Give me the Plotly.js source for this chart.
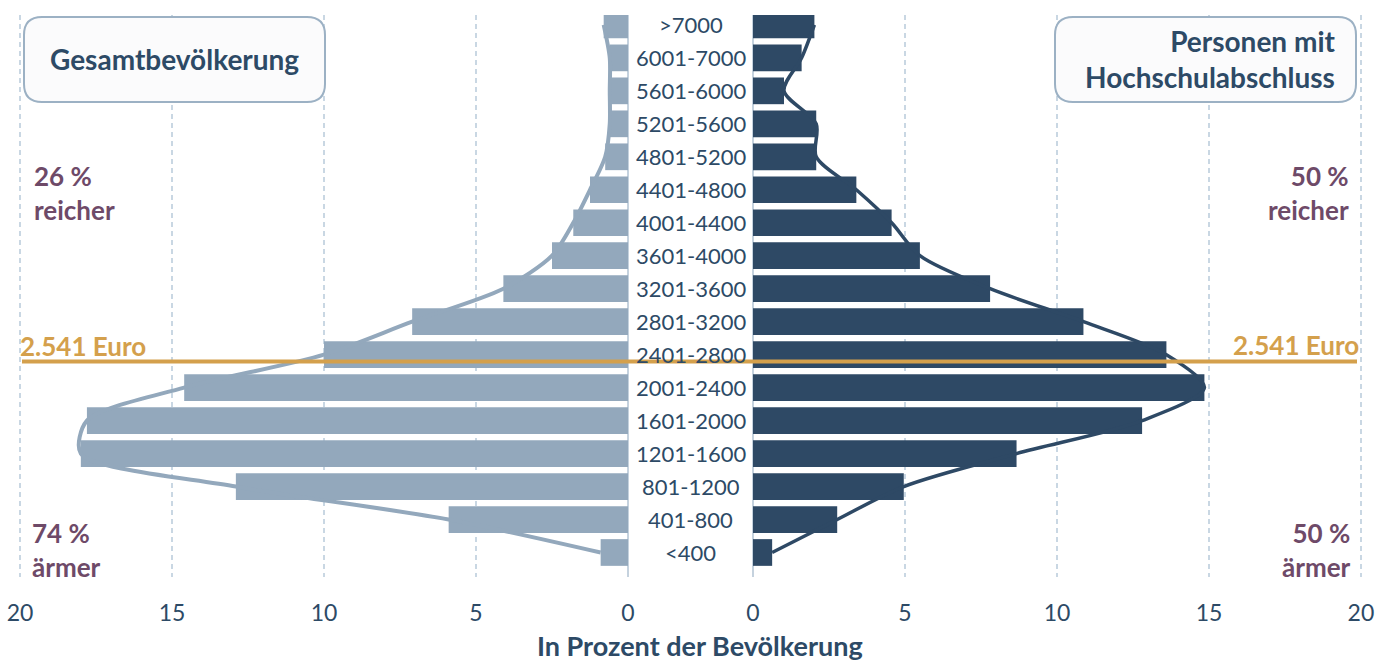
<!DOCTYPE html>
<html>
<head>
<meta charset="utf-8">
<script src="https://cdn.plot.ly/plotly-3.0.1.min.js"></script>
<style>html,body{margin:0;padding:0;background:#fff;}#chart{width:1384px;height:663px;}</style>
</head>
<body>
<div id="chart"></div>
<script>
// ---- data ----
var categories = ['<400','401-800','801-1200','1201-1600','1601-2000','2001-2400','2401-2800','2801-3200','3201-3600','3601-4000','4001-4400','4401-4800','4801-5200','5201-5600','5601-6000','6001-7000','>7000'];
var gesamt = [0.9, 5.9, 12.9, 18.0, 17.8, 14.6, 10.0, 7.1, 4.1, 2.5, 1.8, 1.25, 0.75, 0.6, 0.6, 0.6, 0.8];
var hochschule = [0.63, 2.77, 4.96, 8.67, 12.8, 14.85, 13.6, 10.87, 7.8, 5.49, 4.56, 3.4, 2.08, 2.08, 1.02, 1.6, 2.02];
var tickVals = [0, 5, 10, 15, 20];
var tickText = ['0', '5', '10', '15', '20'];
var medianLabel = '2.541 Euro';
var medianPos = 5.79;
var leftTitle = 'Gesamtbevölkerung';
var rightTitle = 'Personen mit<br>Hochschulabschluss';
var leftRich = '26 %<br>reicher', rightRich = '50 %<br>reicher';
var leftPoor = '74 %<br>ärmer', rightPoor = '50 %<br>ärmer';
var axisTitle = 'In Prozent der Bevölkerung';

// ---- layout helpers ----
var W = 1384, H = 663, ML = 17, MR = 20, MT = 15, MB = 86;
var PW = W - ML - MR, PH = H - MT - MB;
function px(x) { return (x - ML) / PW; }
function py(y) { return (H - MB - y) / PH; }
function roundRect(x0, y0, x1, y1, r) {
  var p = function (x, y) { return px(x) + ',' + py(y); };
  return 'M' + p(x0 + r, y0) + ' L' + p(x1 - r, y0) + ' Q' + p(x1, y0) + ' ' + p(x1, y0 + r) +
    ' L' + p(x1, y1 - r) + ' Q' + p(x1, y1) + ' ' + p(x1 - r, y1) +
    ' L' + p(x0 + r, y1) + ' Q' + p(x0, y1) + ' ' + p(x0, y1 - r) +
    ' L' + p(x0, y0 + r) + ' Q' + p(x0, y0) + ' ' + p(x0 + r, y0) + ' Z';
}

var LIGHT = '#93a8bc', DARK = '#2e4965', TEXT = '#2d4a66', PURPLE = '#6e4a68', GOLD = '#d4a04c', GRID = '#c9d7e3';
var FONT = 'Lato, "Noto Sans", sans-serif';

var traces = [
  {type: 'bar', orientation: 'h', x: gesamt, y: categories, xaxis: 'x', yaxis: 'y',
   marker: {color: LIGHT}, hoverinfo: 'x+y'},
  {type: 'scatter', mode: 'lines', x: gesamt, y: categories, xaxis: 'x', yaxis: 'y',
   line: {color: LIGHT, width: 4, shape: 'spline', smoothing: 0.8}, hoverinfo: 'skip'},
  {type: 'bar', orientation: 'h', x: hochschule, y: categories, xaxis: 'x2', yaxis: 'y',
   marker: {color: DARK}, hoverinfo: 'x+y'},
  {type: 'scatter', mode: 'lines', x: hochschule, y: categories, xaxis: 'x2', yaxis: 'y',
   line: {color: DARK, width: 3.5, shape: 'spline', smoothing: 0.85}, hoverinfo: 'skip'}
];

var axisCommon = {
  tickvals: tickVals, ticktext: tickText, ticks: '', showline: false,
  showgrid: true, gridcolor: GRID, gridwidth: 1.5, griddash: '5px,4px',
  zeroline: true, zerolinecolor: '#c5d2de', zerolinewidth: 2,
  tickfont: {family: FONT, size: 23, color: TEXT}, ticklabelstandoff: 20,
  fixedrange: true
};

var annotations = [];
categories.forEach(function (c) {
  annotations.push({xref: 'paper', yref: 'y', x: px(690.5), y: c, text: c, showarrow: false,
    xanchor: 'center', yanchor: 'middle', font: {family: FONT, size: 22, color: TEXT}});
});
function ann(x, y, text, xa, size, color, bold, align) {
  annotations.push({xref: 'paper', yref: 'paper', x: px(x), y: py(y), text: bold ? '<b>' + text.replace(/<br>/g, '</b><br><b>') + '</b>' : text,
    showarrow: false, xanchor: xa, yanchor: 'middle', align: align || xa, borderpad: 0,
    font: {family: FONT, size: size, color: color}});
}
ann(174, 59, leftTitle, 'center', 28, TEXT, true);
ann(1336, 59, rightTitle, 'right', 28, TEXT, true);
ann(33, 193, leftRich, 'left', 26, PURPLE, true);
ann(1350, 193, rightRich, 'right', 26, PURPLE, true);
ann(31, 550, leftPoor, 'left', 26, PURPLE, true);
ann(1352, 550, rightPoor, 'right', 26, PURPLE, true);
ann(19, 346, medianLabel, 'left', 26, GOLD, true);
ann(1360, 345, medianLabel, 'right', 26, GOLD, true);
ann(700, 645, axisTitle, 'center', 27, TEXT, true);

var layout = {
  width: W, height: H,
  margin: {l: ML, r: MR, t: MT, b: MB},
  paper_bgcolor: '#ffffff', plot_bgcolor: 'rgba(0,0,0,0)',
  showlegend: false, bargap: 0.19,
  font: {family: FONT, color: TEXT},
  xaxis: Object.assign({}, axisCommon, {domain: [0, px(628) ], range: [20.1, 0], anchor: 'y'}),
  xaxis2: Object.assign({}, axisCommon, {domain: [px(753), 1], range: [0, 20.1], anchor: 'y'}),
  yaxis: {type: 'category', range: [-0.743, 16.30], showticklabels: false, showgrid: false,
    zeroline: false, ticks: '', fixedrange: true},
  shapes: [
    {type: 'path', xref: 'paper', yref: 'paper', path: roundRect(24, 17, 325, 102, 18),
     fillcolor: '#fbfbfc', line: {color: '#9cb1c4', width: 2}, layer: 'above'},
    {type: 'path', xref: 'paper', yref: 'paper', path: roundRect(1055, 17, 1356, 102, 18),
     fillcolor: '#fbfbfc', line: {color: '#9cb1c4', width: 2}, layer: 'above'},
    {type: 'line', xref: 'paper', yref: 'y', x0: px(22), x1: px(1357), y0: medianPos, y1: medianPos,
     line: {color: GOLD, width: 4}, layer: 'above'}
  ],
  annotations: annotations
};

Plotly.newPlot('chart', traces, layout, {displayModeBar: false, staticPlot: true});
</script>
</body>
</html>
